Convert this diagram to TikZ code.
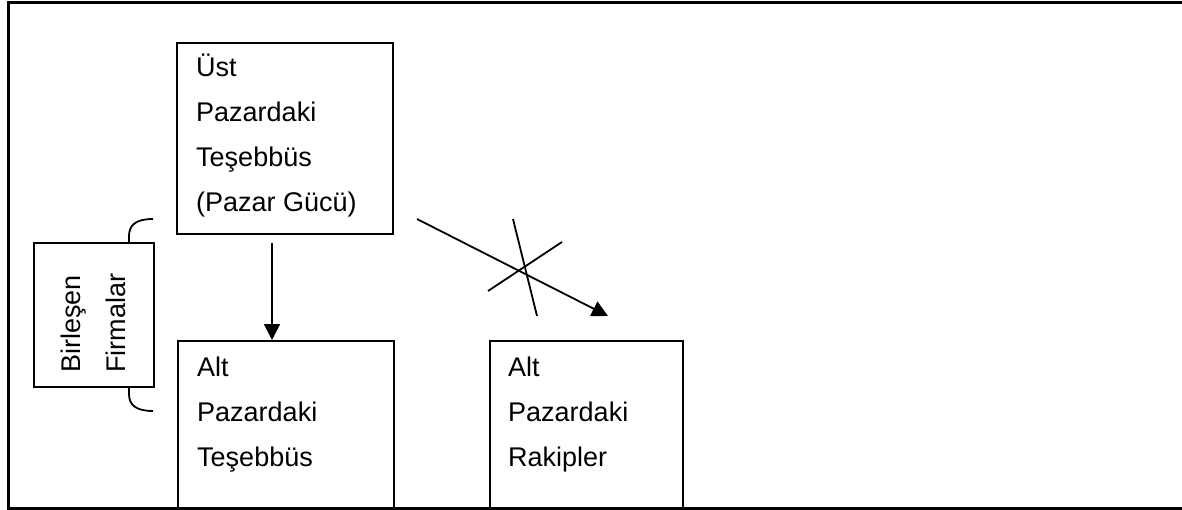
\documentclass[tikz,border=0pt]{standalone}
\usepackage{fontspec}
\setmainfont{Liberation Sans}
\usetikzlibrary{arrows.meta}
\begin{document}
\begin{tikzpicture}[x=1pt,y=-1pt,
  box/.style={draw, line width=1.8pt, inner sep=0, anchor=north west},
  txt/.style={anchor=base west, inner sep=0, font=\fontsize{27}{45}\selectfont},
  arr/.style={line width=1.8pt, -{Triangle[length=16pt,width=16pt]}},
  ln/.style={line width=1.8pt},
  frame/.style={line width=3pt}]
\useasboundingbox (0,0) rectangle (1182,510);
% outer frame (right side lies outside the picture)
\draw[frame] (1190,3) -- (8,3) -- (8,508) -- (1190,508);
% boxes
\node[box, minimum width=216pt, minimum height=191pt] (ust) at (176,42) {};
\node[box, minimum width=216pt, minimum height=168pt] (altT) at (177,340) {};
\node[box, minimum width=193pt, minimum height=168pt] (altR) at (489,340) {};
\node[box, minimum width=120pt, minimum height=144pt] (bf) at (33,242) {};
% texts
\node[txt] (ustText) at (196,77) {\begin{tabular}[t]{@{}l@{}}Üst\\Pazardaki\\Teşebbüs\\(Pazar Gücü)\end{tabular}};
\node[txt] (altTText) at (197,376) {\begin{tabular}[t]{@{}l@{}}Alt\\Pazardaki\\Teşebbüs\end{tabular}};
\node[txt] (altRText) at (508,376) {\begin{tabular}[t]{@{}l@{}}Alt\\Pazardaki\\Rakipler\end{tabular}};
\node[txt, rotate=90] (bfText) at (80,373) {\begin{tabular}[t]{@{}l@{}}Birleşen\\Firmalar\end{tabular}};
% braces
\draw[ln] (153,219) .. controls (136,219) and (129,225) .. (129,236) -- (bf.north -| 129,0);
\draw[ln] (129,386) -- (129,394) .. controls (129,405) and (136,411) .. (153,411);
% vertical arrow
\coordinate (v1) at (272,243);
\draw[arr] (v1) -- (v1 |- altT.north);
% crossed-out diagonal arrow
\coordinate (d1) at (417,219);
\coordinate (d2) at (608,316);
\draw[arr] (d1) -- (d2);
\draw[ln] (513,219) -- (537,316);
\draw[ln] (488,291) -- (562,242);
\end{tikzpicture}
\end{document}
